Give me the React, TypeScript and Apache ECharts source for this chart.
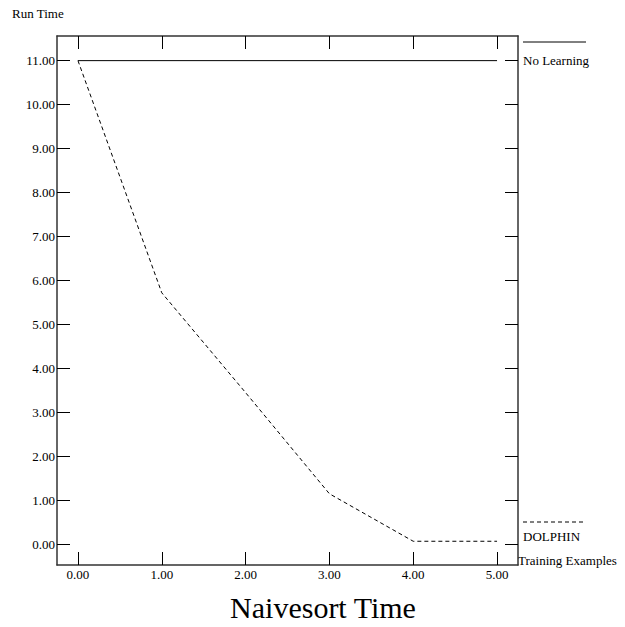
import React, { useEffect, useRef } from "react";
import * as echarts from "echarts";

const xTicks = [0, 1, 2, 3, 4, 5];
const yTicks = [0, 1, 2, 3, 4, 5, 6, 7, 8, 9, 10, 11];
const noLearningX = [0, 5];
const noLearningY = [11, 11];
const dolphinX = [0, 1, 2, 3, 4, 5];
const dolphinY = [11, 5.72, 3.45, 1.15, 0.07, 0.07];

const FONT = "'Liberation Serif', 'Times New Roman', serif";

export default function App() {
  const ref = useRef<HTMLDivElement>(null);
  useEffect(() => {
    if (!ref.current) return;
    const chart = echarts.init(ref.current, null, { renderer: "svg" });
    const xBase = {
      type: "value",
      min: -0.25,
      max: 5.25,
      splitLine: { show: false },
      axisLine: { show: true, onZero: false, lineStyle: { color: "#333", width: 1.5 } },
      axisTick: { show: true, inside: true, length: 13, customValues: xTicks, lineStyle: { color: "#000", width: 1 } },
    };
    const yBase = {
      type: "value",
      min: -0.47,
      max: 11.56,
      splitLine: { show: false },
      axisLine: { show: true, onZero: false, lineStyle: { color: "#333", width: 1.5 } },
      axisTick: { show: true, inside: true, length: 13, customValues: yTicks, lineStyle: { color: "#000", width: 1 } },
    };
    chart.setOption({
      animation: false,
      backgroundColor: "#fff",
      grid: { left: 57, top: 36, right: 107, bottom: 62, containLabel: false },
      xAxis: [
        {
          ...xBase,
          position: "bottom",
          axisLabel: {
            show: true,
            customValues: xTicks,
            formatter: (v: number) => v.toFixed(2),
            color: "#000",
            fontFamily: FONT,
            fontSize: 13,
            margin: 3,
          },
        },
        { ...xBase, position: "top", axisLabel: { show: false } },
      ],
      yAxis: [
        {
          ...yBase,
          position: "left",
          axisLabel: {
            show: true,
            customValues: yTicks,
            formatter: (v: number) => v.toFixed(2),
            color: "#000",
            fontFamily: FONT,
            fontSize: 13,
            margin: 2,
          },
        },
        { ...yBase, position: "right", axisLabel: { show: false } },
      ],
      series: [
        {
          name: "No Learning",
          type: "line",
          symbol: "none",
          data: noLearningX.map((x, i) => [x, noLearningY[i]]),
          lineStyle: { color: "#000", width: 1, type: "solid" },
        },
        {
          name: "DOLPHIN",
          type: "line",
          symbol: "none",
          data: dolphinX.map((x, i) => [x, dolphinY[i]]),
          lineStyle: { color: "#000", width: 1, type: [4, 3] },
        },
      ],
      graphic: [
        { type: "text", left: 12, top: 7, style: { text: "Run Time", font: `13px ${FONT}`, fill: "#000" } },
        { type: "text", left: 518, top: 554, style: { text: "Training Examples", font: `13px ${FONT}`, fill: "#000" } },
        { type: "line", shape: { x1: 523, y1: 42, x2: 586, y2: 42 }, style: { stroke: "#000", lineWidth: 1 } },
        { type: "text", left: 523, top: 54, style: { text: "No Learning", font: `13px ${FONT}`, fill: "#000" } },
        { type: "line", shape: { x1: 523, y1: 522, x2: 584, y2: 522 }, style: { stroke: "#000", lineWidth: 1, lineDash: [4, 3] } },
        { type: "text", left: 523, top: 530, style: { text: "DOLPHIN", font: `13px ${FONT}`, fill: "#000" } },
        {
          type: "text",
          x: 323,
          y: 607,
          style: {
            text: "Naivesort Time",
            font: `30px ${FONT}`,
            fill: "#000",
            align: "center",
            verticalAlign: "middle",
          },
        },
      ],
    });
    return () => chart.dispose();
  }, []);
  return <div ref={ref} style={{ position: "fixed", left: 0, top: 0, width: 625, height: 627 }} />;
}
